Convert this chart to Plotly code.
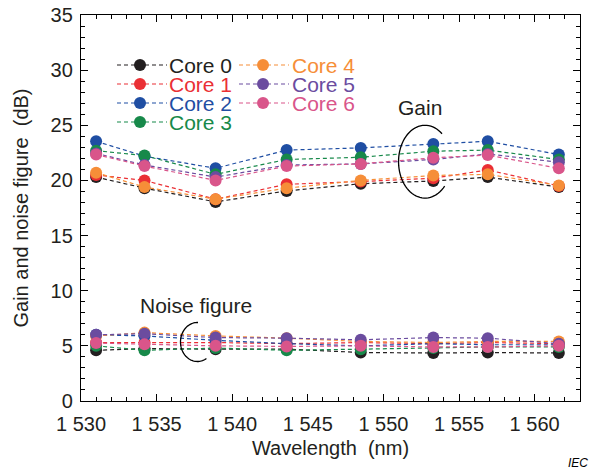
import numpy as np
import plotly.graph_objects as go

# ---------------- data ----------------
wavelength = [1531.0, 1534.2, 1538.9, 1543.6, 1548.5, 1553.3, 1556.9, 1561.6]

core_names = ["Core 0", "Core 1", "Core 2", "Core 3", "Core 4", "Core 5", "Core 6"]
core_colors = ["#231f20", "#ea2f34", "#1f4ea3", "#17894a", "#f68e38", "#6b4c9f", "#d9558a"]

gain_core0 = [20.3, 19.3, 18.05, 19.05, 19.7, 19.95, 20.3, 19.4]
gain_core1 = [20.5, 20.0, 18.3, 19.65, 19.9, 20.2, 20.95, 19.5]
gain_core2 = [23.55, 22.2, 21.1, 22.75, 22.95, 23.3, 23.55, 22.35]
gain_core3 = [22.7, 22.25, 20.55, 21.9, 22.1, 22.65, 22.75, 21.9]
gain_core4 = [20.7, 19.4, 18.3, 19.3, 20.0, 20.45, 20.55, 19.55]
gain_core5 = [22.45, 21.4, 20.3, 21.4, 21.5, 21.9, 22.4, 21.65]
gain_core6 = [22.35, 21.3, 20.0, 21.3, 21.5, 22.05, 22.3, 21.1]

nf_core0 = [4.6, 4.75, 4.7, 4.7, 4.4, 4.35, 4.4, 4.35]
nf_core1 = [5.3, 5.3, 5.3, 5.2, 5.3, 5.2, 5.3, 5.2]
nf_core2 = [6.0, 5.9, 5.5, 5.2, 5.0, 5.2, 5.1, 5.1]
nf_core3 = [5.0, 4.6, 4.8, 4.6, 4.7, 4.8, 4.9, 4.9]
nf_core4 = [5.9, 6.2, 5.9, 5.7, 5.4, 5.3, 5.4, 5.4]
nf_core5 = [6.0, 6.1, 5.75, 5.7, 5.55, 5.75, 5.7, 5.2]
nf_core6 = [5.25, 5.15, 5.0, 4.95, 5.0, 4.9, 4.9, 5.0]

gain_all = [gain_core0, gain_core1, gain_core2, gain_core3, gain_core4, gain_core5, gain_core6]
nf_all = [nf_core0, nf_core1, nf_core2, nf_core3, nf_core4, nf_core5, nf_core6]

x_tick_vals = [1530, 1535, 1540, 1545, 1550, 1555, 1560]
x_tick_text = ["1 530", "1 535", "1 540", "1 545", "1 550", "1 555", "1 560"]
y_tick_vals = [0, 5, 10, 15, 20, 25, 30, 35]

# ---------------- layout geometry ----------------
W, H = 592, 474
ML, MR, MT, MB = 81, 12, 15, 73
PW, PH = W - ML - MR, H - MT - MB
FONT = "Liberation Sans, Arial, sans-serif"


def px_x(px):
    return (px - ML) / PW


def px_y(py):
    return (H - MB - py) / PH


fig = go.Figure()

for name, col, g, n in zip(core_names, core_colors, gain_all, nf_all):
    for vals in (g, n):
        fig.add_trace(go.Scatter(
            x=wavelength, y=vals, mode="lines+markers", name=name,
            showlegend=False,
            line=dict(color=col, width=1.2, dash="4px,3px"),
            marker=dict(color=col, size=12, line=dict(width=0)),
        ))

shapes = []
annotations = []

# manual legend (two columns)
legend_cols = [(117, 167, 140, 168), (239, 289, 263, 291)]
row_y = [65, 84, 103, 122]
for i, (name, col) in enumerate(zip(core_names, core_colors)):
    c = 0 if i < 4 else 1
    r = i if i < 4 else i - 4
    x0, x1, xm, xt = legend_cols[c]
    yy = px_y(row_y[r])
    shapes.append(dict(type="line", xref="paper", yref="paper",
                       x0=px_x(x0), x1=px_x(x1), y0=yy, y1=yy,
                       line=dict(color=col, width=1.2, dash="4px,3px")))
    shapes.append(dict(type="circle", xref="paper", yref="paper",
                       xsizemode="pixel", ysizemode="pixel",
                       xanchor=px_x(xm), yanchor=yy,
                       x0=-6, x1=6, y0=-6, y1=6,
                       fillcolor=col, line=dict(width=0)))
    annotations.append(dict(x=px_x(xt), y=yy, xref="paper", yref="paper",
                            text=name, showarrow=False, xanchor="left", yanchor="middle",
                            height=18, valign="middle", borderpad=0,
                            font=dict(family=FONT, size=21, color=col)))

# brace arcs


def arc_path(cx, cy, rx, ry, a0, a1, n=60):
    t = np.radians(np.linspace(a0, a1, n))
    xs = cx + rx * np.cos(t)
    ys = cy + ry * np.sin(t)
    return "M " + " L ".join(f"{a:.4f},{b:.4f}" for a, b in zip(xs, ys))


shapes.append(dict(type="path", xref="x", yref="y",
                   path=arc_path(1552.75, 21.7, 1.75, 3.3, 50, 318),
                   line=dict(color="black", width=1.3)))
shapes.append(dict(type="path", xref="x", yref="y",
                   path=arc_path(1537.7, 5.35, 1.12, 1.77, 88, 302),
                   line=dict(color="black", width=1.3)))

annotations.append(dict(x=1552.44, y=26.63, xref="x", yref="y", text="Gain",
                        showarrow=False, font=dict(family=FONT, size=21, color="#231f20")))
annotations.append(dict(x=1537.63, y=8.68, xref="x", yref="y", text="Noise figure",
                        showarrow=False, font=dict(family=FONT, size=21, color="#231f20")))
annotations.append(dict(x=px_x(590), y=px_y(463), xref="paper", yref="paper", text="<i>IEC</i>",
                        showarrow=False, xanchor="right", yanchor="middle",
                        font=dict(family=FONT, size=12, color="black")))

axis_common = dict(
    showline=True, linecolor="black", linewidth=1.3, mirror="allticks",
    ticks="inside", ticklen=7, tickwidth=1.2, tickcolor="black",
    showgrid=False, zeroline=False, automargin=False,
    tickfont=dict(family=FONT, size=20, color="#231f20"),
)

fig.update_layout(
    width=W, height=H,
    margin=dict(l=ML, r=MR, t=MT, b=MB),
    paper_bgcolor="white", plot_bgcolor="white",
    showlegend=False,
    shapes=shapes, annotations=annotations,
    xaxis=dict(
        range=[1530, 1563], tickmode="array", tickvals=x_tick_vals, ticktext=x_tick_text,
        minor=dict(tickmode="linear", tick0=1530, dtick=1, ticks="inside", ticklen=4,
                   tickwidth=1, tickcolor="black"),
        ticklabelstandoff=5,
        title=dict(text="Wavelength  (nm)", font=dict(family=FONT, size=20, color="#231f20"), standoff=6),
        **axis_common,
    ),
    yaxis=dict(
        range=[0, 35], tickmode="array", tickvals=y_tick_vals,
        minor=dict(tickmode="linear", tick0=0, dtick=1, ticks="inside", ticklen=4,
                   tickwidth=1, tickcolor="black"),
        ticklabelstandoff=3,
        title=dict(text="Gain and noise figure  (dB)", font=dict(family=FONT, size=20, color="#231f20"), standoff=16),
        **axis_common,
    ),
)

fig.write_html("out.html")
